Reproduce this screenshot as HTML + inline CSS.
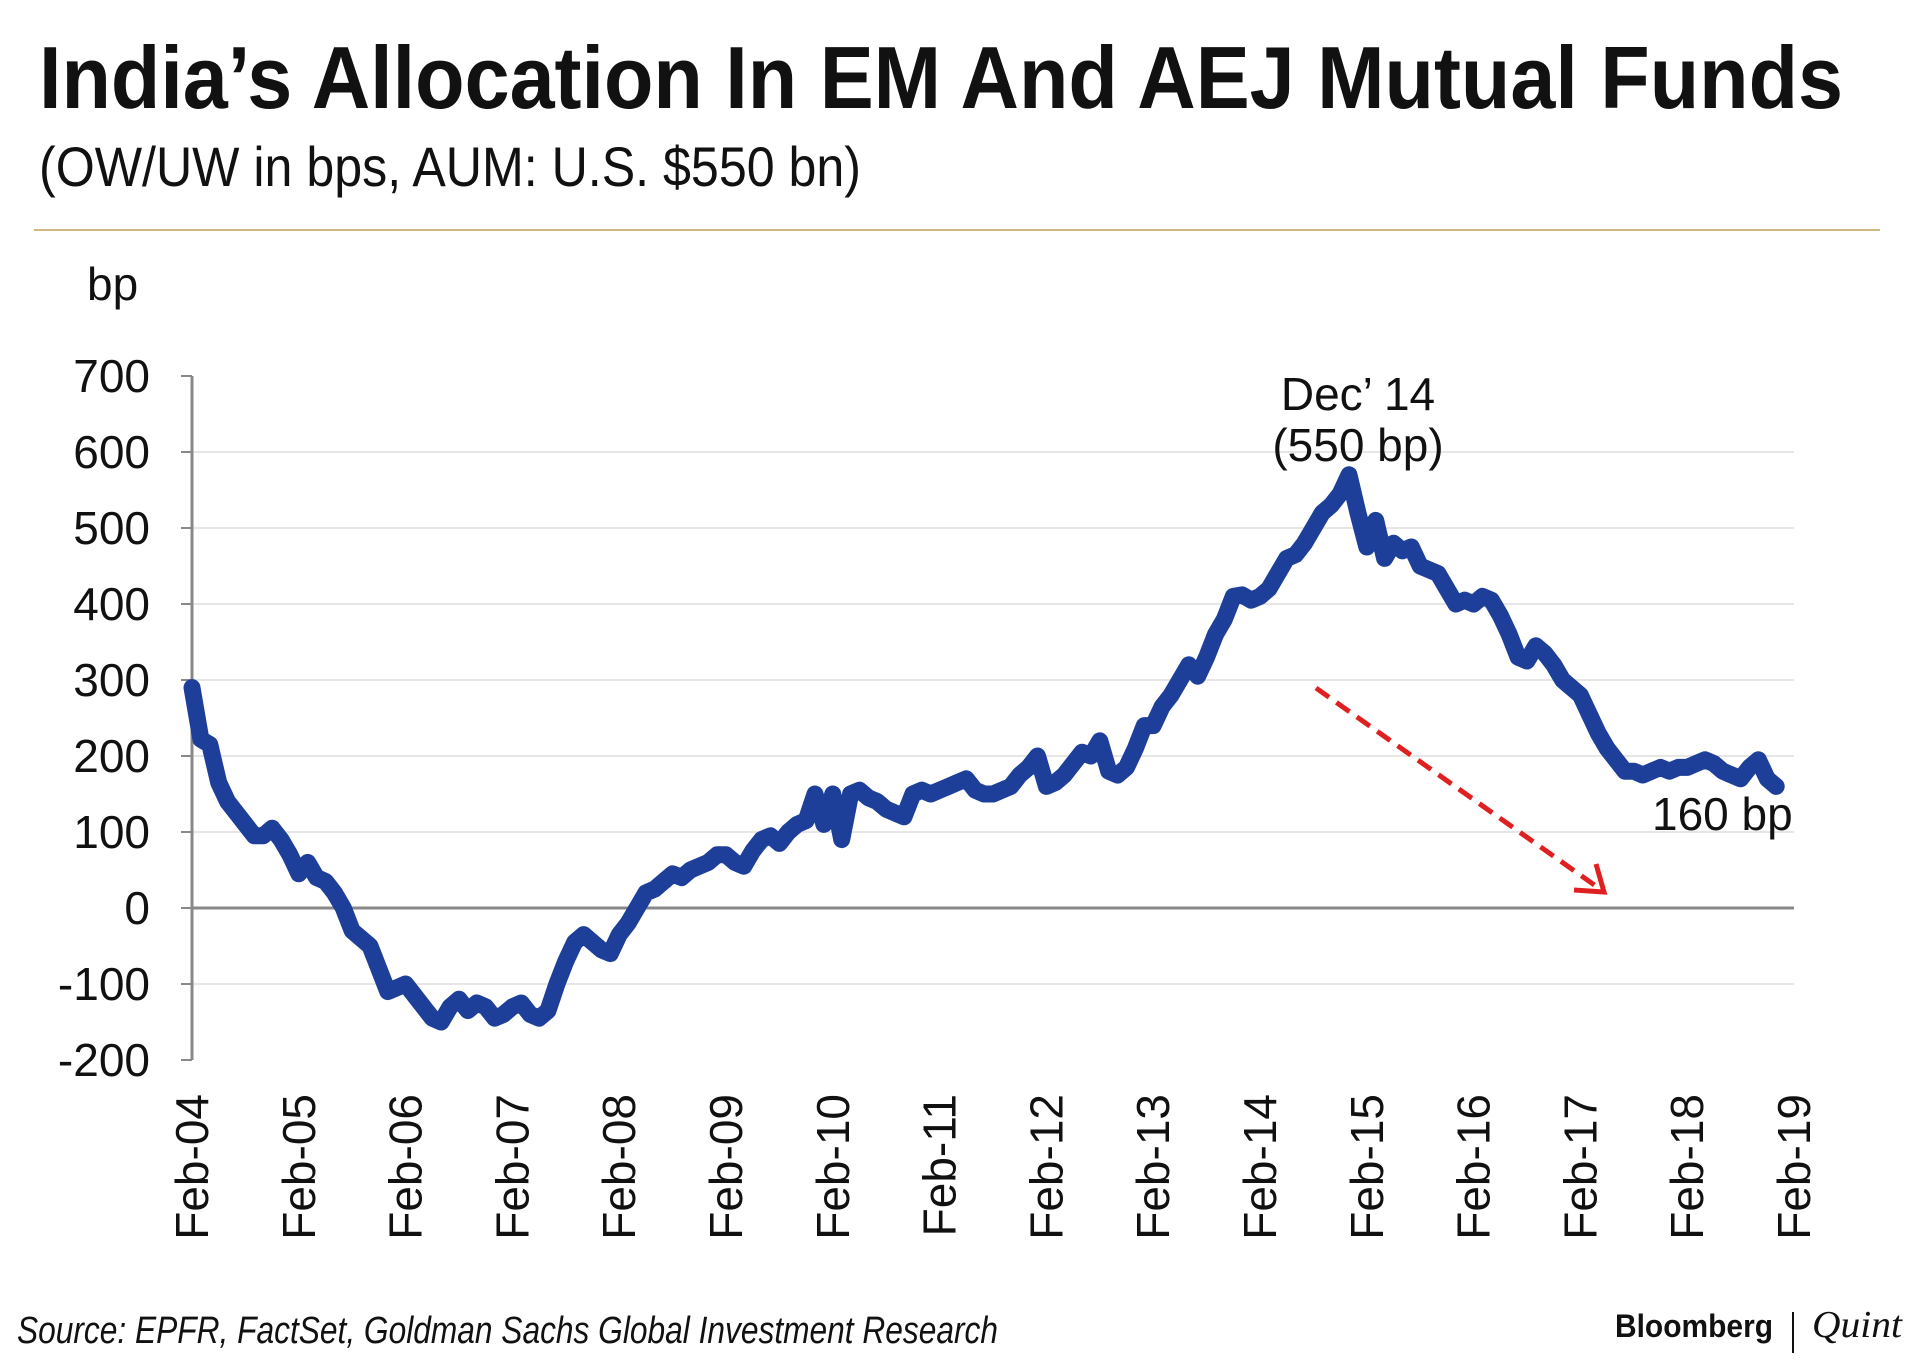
<!DOCTYPE html>
<html><head><meta charset="utf-8"><style>
html,body{margin:0;padding:0;background:#fff;}
svg{display:block;}
text{font-family:"Liberation Sans",sans-serif;}
</style></head><body>
<svg id="chart" width="1920" height="1371" viewBox="0 0 1920 1371" xmlns="http://www.w3.org/2000/svg">
<text x="39" y="108" font-size="88" font-weight="bold" textLength="1804" lengthAdjust="spacingAndGlyphs" fill="#111" style="font-family:'Liberation Sans Narrow','Liberation Sans',sans-serif">India’s Allocation In EM And AEJ Mutual Funds</text>
<text x="39" y="186" font-size="56" textLength="822" lengthAdjust="spacingAndGlyphs" fill="#111" style="font-family:'Liberation Sans Narrow','Liberation Sans',sans-serif">(OW/UW in bps, AUM: U.S. $550 bn)</text>
<line x1="34" y1="230" x2="1880" y2="230" stroke="#d2b77f" stroke-width="2"/>
<text x="87" y="300" font-size="46" fill="#111">bp</text>
<g id="grid"></g><g id="axes"></g><g id="series"></g>
<text x="1358" y="410" font-size="46" text-anchor="middle" fill="#111">Dec’ 14</text>
<text x="1358" y="461" font-size="46" text-anchor="middle" fill="#111">(550 bp)</text>
<text x="1652" y="830" font-size="46" fill="#111">160 bp</text>
<g>
<line x1="1316" y1="688" x2="1600" y2="889" stroke="#e02020" stroke-width="5" stroke-dasharray="16,9"/>
<polyline points="1574,890 1604,892 1596,864" fill="none" stroke="#e02020" stroke-width="5"/>
</g>
<text x="17" y="1343" font-size="38" font-style="italic" textLength="981" lengthAdjust="spacingAndGlyphs" fill="#111" style="font-family:'Liberation Sans Narrow','Liberation Sans',sans-serif">Source: EPFR, FactSet, Goldman Sachs Global Investment Research</text>
<text x="1615" y="1337" font-size="32" font-weight="bold" textLength="158" lengthAdjust="spacingAndGlyphs" fill="#111">Bloomberg</text>
<line x1="1793" y1="1312" x2="1793" y2="1353" stroke="#111" stroke-width="2"/>
<text x="1812" y="1337" font-size="38" font-style="italic" textLength="90" lengthAdjust="spacingAndGlyphs" fill="#111" style="font-family:'Liberation Serif',serif">Quint</text>
</svg>
<script>
const yTicks = [700,600,500,400,300,200,100,0,-100,-200];
const xLabels = ["Feb-04","Feb-05","Feb-06","Feb-07","Feb-08","Feb-09","Feb-10","Feb-11","Feb-12","Feb-13","Feb-14","Feb-15","Feb-16","Feb-17","Feb-18","Feb-19"];
const values = [
290,222,215,165,140,125,110,95,95,105,90,70,
45,60,40,35,20,0,-30,-40,-50,-80,-110,-105,
-100,-115,-130,-145,-150,-130,-120,-135,-125,-130,-145,-140,
-130,-125,-140,-145,-135,-100,-70,-45,-35,-45,-55,-60,
-35,-20,0,20,25,35,45,40,50,55,60,70,
70,60,55,75,90,95,85,100,110,115,150,110,
150,90,150,155,145,140,130,125,120,150,155,150,
155,160,165,170,155,150,150,155,160,175,185,200,
160,165,175,190,205,200,220,180,175,185,210,240,
240,265,280,300,320,305,330,360,380,410,412,405,
410,420,440,460,465,480,500,520,530,545,570,520,
475,510,460,480,470,475,450,445,440,420,400,405,
400,410,405,385,360,330,325,345,335,320,300,290,
280,255,230,210,195,180,180,175,180,185,180,185,
185,190,195,190,180,175,170,185,195,170,160
];
const NS="http://www.w3.org/2000/svg";
const X0=192,X1=1794,Y0=376,Y1=1060,VMAX=700,VMIN=-200,MONTHS=180;
function xm(m){return X0+m*(X1-X0)/MONTHS;}
function yv(v){return Y0+(VMAX-v)*(Y1-Y0)/(VMAX-VMIN);}
function mk(tag,attrs,parent){const e=document.createElementNS(NS,tag);for(const k in attrs)e.setAttribute(k,attrs[k]);parent.appendChild(e);return e;}
const grid=document.getElementById('grid'),axes=document.getElementById('axes'),series=document.getElementById('series');
yTicks.forEach(v=>{
  if(v!==0&&v!==VMIN&&v!==VMAX){
    const g=mk('line',{x1:X0,x2:X1,y1:yv(v),y2:yv(v),stroke:'#e6e6e6','stroke-width':2},grid);
    
    
  }
  const t=mk('line',{x1:X0-11,x2:X0,y1:yv(v),y2:yv(v),stroke:'#888','stroke-width':2},axes);
  
  
  const l=mk('text',{x:150,y:yv(v)+16,'font-size':46,'text-anchor':'end',fill:'#111'},axes);
  l.textContent=String(v);
  
  
});
const ya=mk('line',{x1:X0,x2:X0,y1:Y0,y2:Y1,stroke:'#888','stroke-width':3},axes);


const zl=mk('line',{x1:X0,x2:X1,y1:yv(0),y2:yv(0),stroke:'#888','stroke-width':3},axes);


xLabels.forEach((s,i)=>{
  const x=xm(i*12);
  const t=mk('text',{'font-size':46,'text-anchor':'end',fill:'#111',transform:'translate('+(x+16)+',1094) rotate(-90)'},axes);
  t.textContent=s;
  
  
});
const pts=values.map((v,i)=>xm(i).toFixed(1)+','+yv(v).toFixed(1)).join(' ');
const pl=mk('polyline',{points:pts,fill:'none',stroke:'#1d3f99','stroke-width':17,'stroke-linejoin':'round','stroke-linecap':'round'},series);


</script>
</body></html>
